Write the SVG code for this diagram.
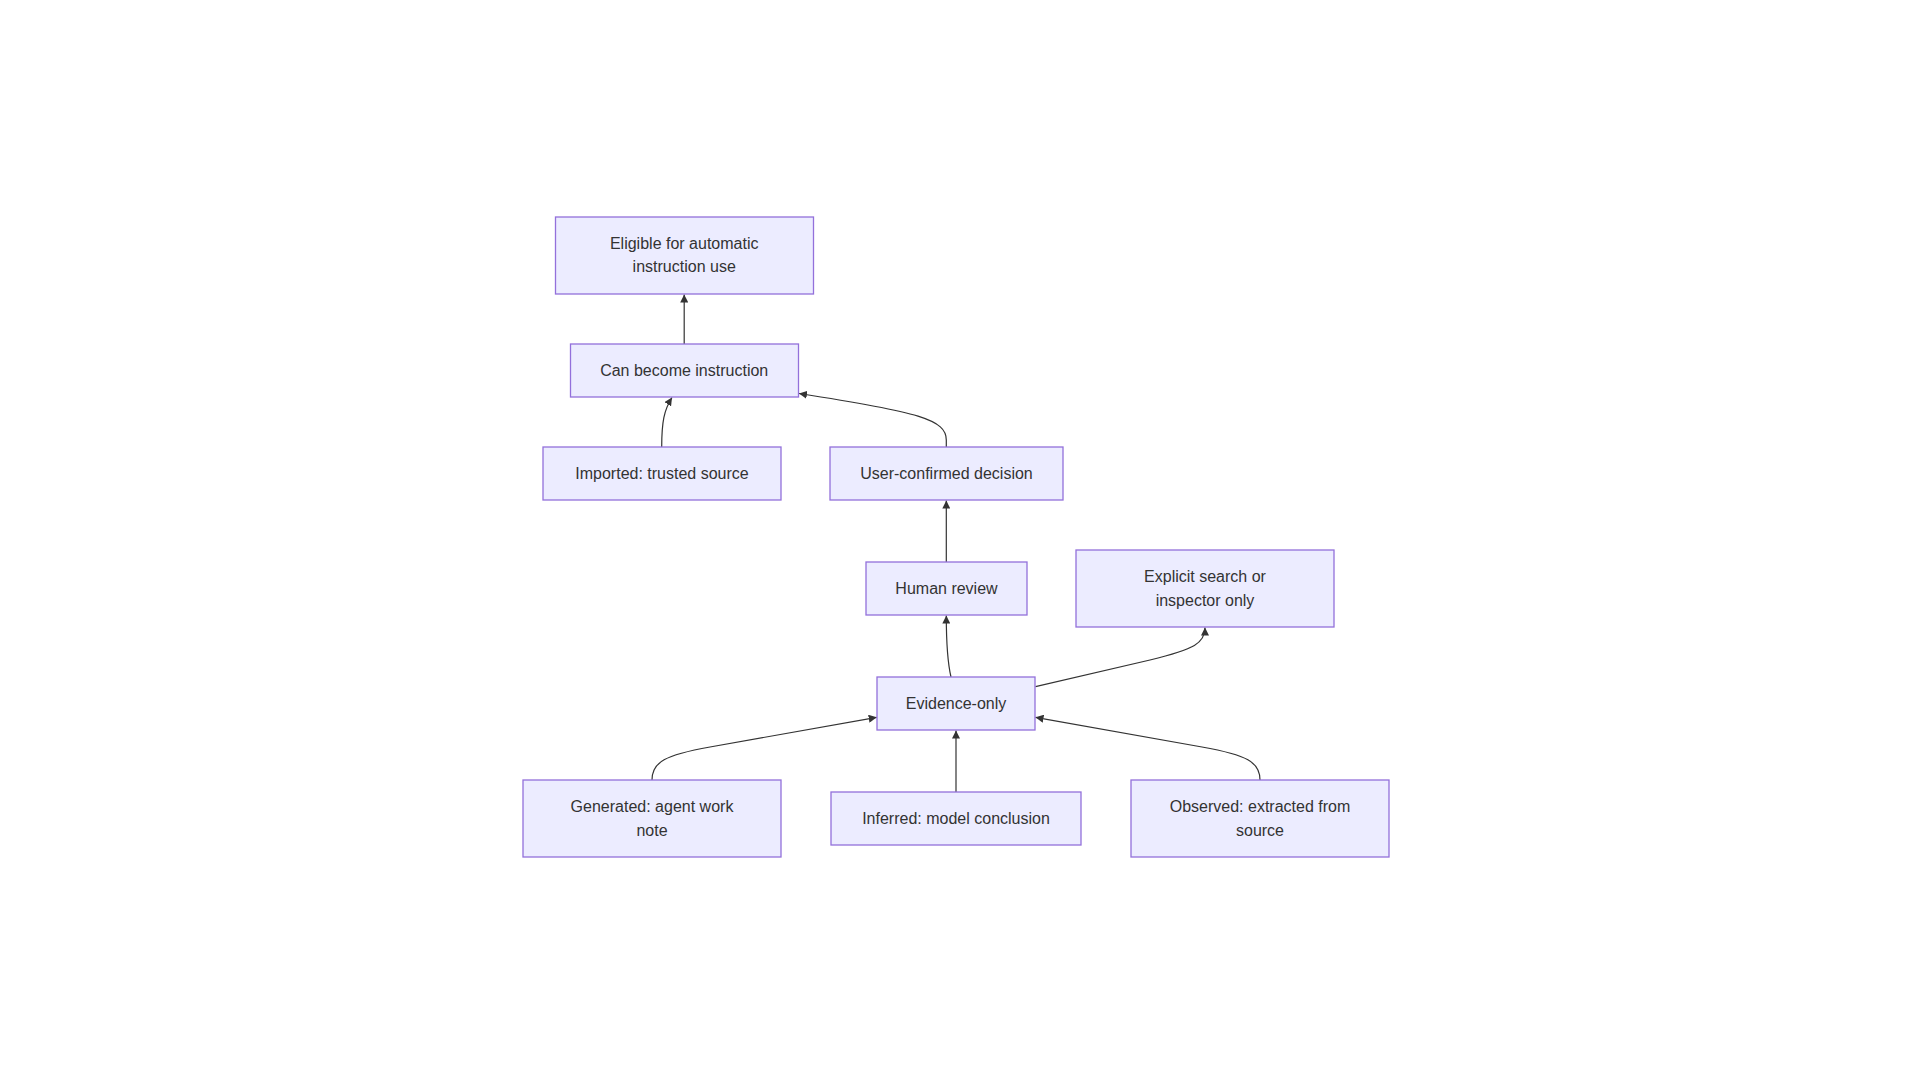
<svg xmlns="http://www.w3.org/2000/svg" width="1920" height="1080" viewBox="0 0 1920 1080">
<style>
.node rect{fill:#ECECFF;stroke:#9370DB;stroke-width:1.3px}
.node text{font-family:"Liberation Sans",Arial,sans-serif;font-size:16px;fill:#333333;text-anchor:middle;dominant-baseline:central}
.edges path{fill:none;stroke:#333333;stroke-width:1.2px}
</style>
<defs>
<marker id="arrow" viewBox="0 0 10 10" refX="10" refY="5" markerUnits="userSpaceOnUse" markerWidth="8" markerHeight="8" orient="auto">
<path d="M0,0 L10,5 L0,10 z" fill="#333333"/>
</marker>
</defs>
<rect width="1920" height="1080" fill="#ffffff"/>
<g class="edges">
<path marker-end="url(#arrow)" d="M684.2,344 L684.2,294.5"/>
<path marker-end="url(#arrow)" d="M661.7,447 C661.7,422 664,410 672,397.5"/>
<path marker-end="url(#arrow)" d="M946.3,447 L946.3,440 C946.3,420 920,412 799,393.5"/>
<path marker-end="url(#arrow)" d="M946.3,562 L946.3,500.5"/>
<path marker-end="url(#arrow)" d="M951,677 C947,660 946.3,640 946.3,615.5"/>
<path marker-end="url(#arrow)" d="M1035.5,686.7 L1150,660 C1195,649 1205,643 1205,627.5"/>
<path marker-end="url(#arrow)" d="M652,780 C652,762 665,755 710,747 L876.7,717.3"/>
<path marker-end="url(#arrow)" d="M956,792 L956,730.5"/>
<path marker-end="url(#arrow)" d="M1260,780 C1260,762 1247,755 1202,747 L1035.5,717.3"/>
</g>
<g id="eligible" class="node"><rect x="555.5" y="217" width="258" height="77"/><text x="684.2" y="243.5">Eligible for automatic</text><text x="684.2" y="266.5">instruction use</text></g>
<g id="canBecome" class="node"><rect x="570.5" y="344" width="228" height="53"/><text x="684.2" y="370.5">Can become instruction</text></g>
<g id="imported" class="node"><rect x="543" y="447" width="238" height="53"/><text x="662" y="473.5">Imported: trusted source</text></g>
<g id="userConfirmed" class="node"><rect x="830" y="447" width="233" height="53"/><text x="946.5" y="473.5">User-confirmed decision</text></g>
<g id="humanReview" class="node"><rect x="866" y="562" width="161" height="53"/><text x="946.5" y="588.5">Human review</text></g>
<g id="explicitSearch" class="node"><rect x="1076" y="550" width="258" height="77"/><text x="1205" y="576.5">Explicit search or</text><text x="1205" y="600.5">inspector only</text></g>
<g id="evidenceOnly" class="node"><rect x="877" y="677" width="158" height="53"/><text x="956" y="703.5">Evidence-only</text></g>
<g id="generated" class="node"><rect x="523" y="780" width="258" height="77"/><text x="652" y="806.5">Generated: agent work</text><text x="652" y="830.5">note</text></g>
<g id="inferred" class="node"><rect x="831" y="792" width="250" height="53"/><text x="956" y="818.5">Inferred: model conclusion</text></g>
<g id="observed" class="node"><rect x="1131" y="780" width="258" height="77"/><text x="1260" y="806.5">Observed: extracted from</text><text x="1260" y="830.5">source</text></g>
</svg>
